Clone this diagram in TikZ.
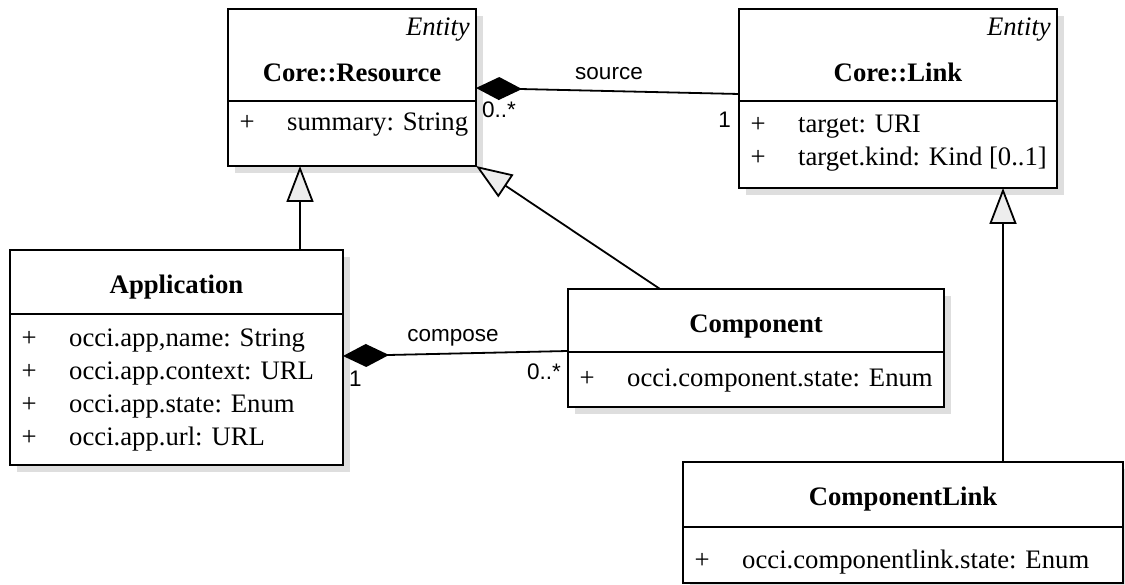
\documentclass[tikz,border=0pt]{standalone}
\usepackage{fontspec}
\setmainfont{Liberation Serif}
\newfontfamily\labelfont{Liberation Sans}
\usetikzlibrary{arrows.meta,positioning,shadows}

\begin{document}
\begin{tikzpicture}[x=1pt, y=-1pt,
    classbox/.style={draw, line width=1.8pt, fill=white, inner sep=0pt, outer sep=0pt,
      drop shadow={shadow xshift=7pt, shadow yshift=-7pt, fill=black!13, opacity=1}},
    cname/.style={anchor=base, inner sep=0pt, font=\fontsize{26.7}{33}\selectfont\bfseries},
    stereo/.style={anchor=base east, inner sep=0pt, font=\fontsize{26.7}{33}\selectfont\itshape},
    attr/.style={anchor=base west, inner sep=0pt, font=\fontsize{26.7}{33}\selectfont},
    lbl/.style={inner sep=0pt, font=\labelfont\fontsize{22.5}{27}\selectfont},
    gen/.style={line width=1.8pt, -{Triangle[length=36pt, width=27pt, fill=black!7]}},
    comp/.style={line width=1.8pt, -{Diamond[length=46pt, width=23pt]}}]
    \useasboundingbox (0,0) rectangle (1125,585);

    % Core::Resource
    \node[classbox, anchor=north west, minimum width=248pt, minimum height=92pt] (resH) at (228,9) {};
    \node[classbox, below=0pt of resH, minimum width=248pt, minimum height=65pt] (resB) {};
    \node[stereo] (resE) at ([xshift=-6pt, yshift=-27pt]resH.north east) {Entity};
    \node[cname] (resN) at ([yshift=19pt]resH.south) {Core::Resource};
    \node[attr] (resA) at ([xshift=11.5pt, yshift=-30pt]resB.north west)
        {\begin{tabular}[t]{@{}p{47.5pt}@{}l@{}} + & summary: String \end{tabular}};

    % Core::Link
    \node[classbox, anchor=north west, minimum width=318pt, minimum height=92pt] (lnkH) at (739,9) {};
    \node[classbox, below=0pt of lnkH, minimum width=318pt, minimum height=87pt] (lnkB) {};
    \node[stereo] (lnkE) at ([xshift=-6pt, yshift=-27pt]lnkH.north east) {Entity};
    \node[cname] (lnkN) at ([yshift=19pt]lnkH.south) {Core::Link};
    \node[attr] (lnkA) at ([xshift=11.5pt, yshift=-32pt]lnkB.north west)
        {\begin{tabular}[t]{@{}p{47.5pt}@{}l@{}} + & target: URI \\ + & target.kind: Kind [0..1] \end{tabular}};

    % Application
    \node[classbox, anchor=north west, minimum width=333pt, minimum height=64pt] (appH) at (10,250) {};
    \node[classbox, below=0pt of appH, minimum width=333pt, minimum height=151pt] (appB) {};
    \node[cname] (appN) at ([yshift=20pt]appH.south) {Application};
    \node[attr] (appA) at ([xshift=11.5pt, yshift=-33pt]appB.north west)
        {\begin{tabular}[t]{@{}p{47.5pt}@{}l@{}}
            + & occi.app,name: String \\
            + & occi.app.context: URL \\
            + & occi.app.state: Enum \\
            + & occi.app.url: URL
        \end{tabular}};

    % Component
    \node[classbox, anchor=north west, minimum width=376pt, minimum height=63pt] (comH) at (568,289) {};
    \node[classbox, below=0pt of comH, minimum width=376pt, minimum height=55pt] (comB) {};
    \node[cname] (comN) at ([yshift=19pt]comH.south) {Component};
    \node[attr] (comA) at ([xshift=11.5pt, yshift=-35pt]comB.north west)
        {\begin{tabular}[t]{@{}p{47.5pt}@{}l@{}} + & occi.component.state: Enum \end{tabular}};

    % ComponentLink
    \node[classbox, anchor=north west, minimum width=440pt, minimum height=65pt] (clkH) at (683,462) {};
    \node[classbox, below=0pt of clkH, minimum width=440pt, minimum height=56pt] (clkB) {};
    \node[cname] (clkN) at ([yshift=22pt]clkH.south) {ComponentLink};
    \node[attr] (clkA) at ([xshift=11.5pt, yshift=-41pt]clkB.north west)
        {\begin{tabular}[t]{@{}p{47.5pt}@{}l@{}} + & occi.componentlink.state: Enum \end{tabular}};

    % Generalizations
    \draw[gen] ([xshift=123.5pt]appH.north) -- ([xshift=-52pt]resB.south);
    \draw[gen] ([xshift=-96pt]comH.north) -- (resB.south east);
    \draw[gen] ([xshift=100pt]clkH.north) -- ([xshift=105pt]lnkB.south);

    % Compositions
    \draw[comp] ([yshift=7pt]lnkB.north west) -- ([yshift=13pt]resB.north east);
    \node[lbl, anchor=base] (srcL) at (609,80) {source};
    \node[lbl, anchor=base west] (srcM) at (482,118) {0..*};
    \node[lbl, anchor=base east] (srcO) at (731,128) {1};

    \draw[comp] ([yshift=1pt]comB.north west) -- ([yshift=-42pt]appB.north east);
    \node[lbl, anchor=base] (cmpL) at (453,342) {compose};
    \node[lbl, anchor=base west] (cmpO) at (349,387) {1};
    \node[lbl, anchor=base east] (cmpM) at (561,380) {0..*};
\end{tikzpicture}
\end{document}
